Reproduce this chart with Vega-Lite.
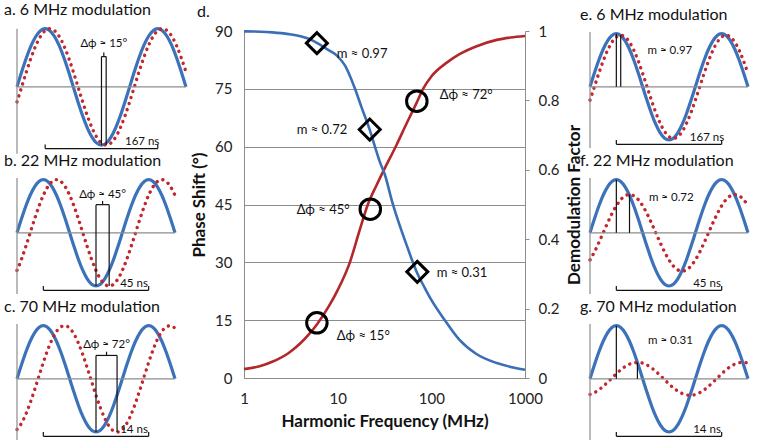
{
"$schema": "https://vega.github.io/schema/vega-lite/v6.json",
"background": "white",
"padding": {"left": 4, "top": 1, "right": 2, "bottom": 2},
"bounds": "full",
"spacing": -3,
"config": {
  "view": {"stroke": null},
  "font": "Lato",
  "title": {"font": "Lato", "fontSize": 16, "fontWeight": "normal", "color": "#111111", "anchor": "start", "frame": "group", "offset": 0},
  "axis": {"labelFont": "Lato", "titleFont": "Lato", "labelColor": "#222222", "titleColor": "#111111", "domainColor": "#8c8c8c", "gridColor": "#8c8c8c", "tickColor": "#8c8c8c"}
},
"datasets": {
  "waves": [
    {"t":0,"blue":0,"r15":-0.259,"r45":-0.707,"r72":-0.951,"e":-0.251,"f":-0.509,"g":-0.295},
    {"t":15,"blue":0.259,"r15":0,"r45":-0.5,"r72":-0.839,"e":0,"f":-0.36,"g":-0.26},
    {"t":30,"blue":0.5,"r15":0.259,"r45":-0.259,"r72":-0.669,"e":0.251,"f":-0.186,"g":-0.207},
    {"t":45,"blue":0.707,"r15":0.5,"r45":0,"r72":-0.454,"e":0.485,"f":0,"g":-0.141},
    {"t":60,"blue":0.866,"r15":0.707,"r45":0.259,"r72":-0.208,"e":0.686,"f":0.186,"g":-0.064},
    {"t":75,"blue":0.966,"r15":0.866,"r45":0.5,"r72":0.052,"e":0.84,"f":0.36,"g":0.016},
    {"t":90,"blue":1,"r15":0.966,"r45":0.707,"r72":0.309,"e":0.937,"f":0.509,"g":0.096},
    {"t":105,"blue":0.966,"r15":1,"r45":0.866,"r72":0.545,"e":0.97,"f":0.624,"g":0.169},
    {"t":120,"blue":0.866,"r15":0.966,"r45":0.966,"r72":0.743,"e":0.937,"f":0.696,"g":0.23},
    {"t":135,"blue":0.707,"r15":0.866,"r45":1,"r72":0.891,"e":0.84,"f":0.72,"g":0.276},
    {"t":150,"blue":0.5,"r15":0.707,"r45":0.966,"r72":0.978,"e":0.686,"f":0.696,"g":0.303},
    {"t":165,"blue":0.259,"r15":0.5,"r45":0.866,"r72":0.999,"e":0.485,"f":0.624,"g":0.31},
    {"t":180,"blue":0,"r15":0.259,"r45":0.707,"r72":0.951,"e":0.251,"f":0.509,"g":0.295},
    {"t":195,"blue":-0.259,"r15":0,"r45":0.5,"r72":0.839,"e":0,"f":0.36,"g":0.26},
    {"t":210,"blue":-0.5,"r15":-0.259,"r45":0.259,"r72":0.669,"e":-0.251,"f":0.186,"g":0.207},
    {"t":225,"blue":-0.707,"r15":-0.5,"r45":0,"r72":0.454,"e":-0.485,"f":0,"g":0.141},
    {"t":240,"blue":-0.866,"r15":-0.707,"r45":-0.259,"r72":0.208,"e":-0.686,"f":-0.186,"g":0.064},
    {"t":255,"blue":-0.966,"r15":-0.866,"r45":-0.5,"r72":-0.052,"e":-0.84,"f":-0.36,"g":-0.016},
    {"t":270,"blue":-1,"r15":-0.966,"r45":-0.707,"r72":-0.309,"e":-0.937,"f":-0.509,"g":-0.096},
    {"t":285,"blue":-0.966,"r15":-1,"r45":-0.866,"r72":-0.545,"e":-0.97,"f":-0.624,"g":-0.169},
    {"t":300,"blue":-0.866,"r15":-0.966,"r45":-0.966,"r72":-0.743,"e":-0.937,"f":-0.696,"g":-0.23},
    {"t":315,"blue":-0.707,"r15":-0.866,"r45":-1,"r72":-0.891,"e":-0.84,"f":-0.72,"g":-0.276},
    {"t":330,"blue":-0.5,"r15":-0.707,"r45":-0.966,"r72":-0.978,"e":-0.686,"f":-0.696,"g":-0.303},
    {"t":345,"blue":-0.259,"r15":-0.5,"r45":-0.866,"r72":-0.999,"e":-0.485,"f":-0.624,"g":-0.31},
    {"t":360,"blue":0,"r15":-0.259,"r45":-0.707,"r72":-0.951,"e":-0.251,"f":-0.509,"g":-0.295},
    {"t":375,"blue":0.259,"r15":0,"r45":-0.5,"r72":-0.839,"e":0,"f":-0.36,"g":-0.26},
    {"t":390,"blue":0.5,"r15":0.259,"r45":-0.259,"r72":-0.669,"e":0.251,"f":-0.186,"g":-0.207},
    {"t":405,"blue":0.707,"r15":0.5,"r45":0,"r72":-0.454,"e":0.485,"f":0,"g":-0.141},
    {"t":420,"blue":0.866,"r15":0.707,"r45":0.259,"r72":-0.208,"e":0.686,"f":0.186,"g":-0.064},
    {"t":435,"blue":0.966,"r15":0.866,"r45":0.5,"r72":0.052,"e":0.84,"f":0.36,"g":0.016},
    {"t":450,"blue":1,"r15":0.966,"r45":0.707,"r72":0.309,"e":0.937,"f":0.509,"g":0.096},
    {"t":465,"blue":0.966,"r15":1,"r45":0.866,"r72":0.545,"e":0.97,"f":0.624,"g":0.169},
    {"t":480,"blue":0.866,"r15":0.966,"r45":0.966,"r72":0.743,"e":0.937,"f":0.696,"g":0.23},
    {"t":495,"blue":0.707,"r15":0.866,"r45":1,"r72":0.891,"e":0.84,"f":0.72,"g":0.276},
    {"t":510,"blue":0.5,"r15":0.707,"r45":0.966,"r72":0.978,"e":0.686,"f":0.696,"g":0.303},
    {"t":525,"blue":0.259,"r15":0.5,"r45":0.866,"r72":0.999,"e":0.485,"f":0.624,"g":0.31},
    {"t":540,"blue":0,"r15":0.259,"r45":0.707,"r72":0.951,"e":0.251,"f":0.509,"g":0.295}
  ],
  "seg": [
    {"p":"a","k":"axis","x":0,"y":0,"x2":540,"y2":0},
    {"p":"a","k":"axis","x":0,"y":-1.15,"x2":0,"y2":1.0},
    {"p":"a","k":"mark","x":90,"y":-1.06,"x2":450,"y2":-1.06},
    {"p":"a","k":"mark","x":90,"y":-1.06,"x2":90,"y2":-0.99},
    {"p":"a","k":"mark","x":450,"y":-1.06,"x2":450,"y2":-0.99},
    {"p":"a","k":"mark","x":270,"y":-1,"x2":270,"y2":0.52},
    {"p":"a","k":"mark","x":285,"y":-1,"x2":285,"y2":0.52},
    {"p":"a","k":"mark","x":270,"y":0.52,"x2":285,"y2":0.52},
    {"p":"a","k":"mark","x":277.5,"y":0.52,"x2":277.5,"y2":0.59},
    {"p":"b","k":"axis","x":0,"y":0,"x2":540,"y2":0},
    {"p":"b","k":"axis","x":0,"y":-1.15,"x2":0,"y2":1.03},
    {"p":"b","k":"mark","x":90,"y":-1.08,"x2":450,"y2":-1.08},
    {"p":"b","k":"mark","x":90,"y":-1.08,"x2":90,"y2":-1.0},
    {"p":"b","k":"mark","x":450,"y":-1.08,"x2":450,"y2":-1.0},
    {"p":"b","k":"mark","x":270,"y":-1,"x2":270,"y2":0.53},
    {"p":"b","k":"mark","x":315,"y":-1,"x2":315,"y2":0.53},
    {"p":"b","k":"mark","x":270,"y":0.53,"x2":315,"y2":0.53},
    {"p":"b","k":"mark","x":292.5,"y":0.53,"x2":292.5,"y2":0.6},
    {"p":"c","k":"axis","x":0,"y":0,"x2":540,"y2":0},
    {"p":"c","k":"axis","x":0,"y":-1.15,"x2":0,"y2":1.03},
    {"p":"c","k":"mark","x":90,"y":-1.08,"x2":450,"y2":-1.08},
    {"p":"c","k":"mark","x":90,"y":-1.08,"x2":90,"y2":-1.0},
    {"p":"c","k":"mark","x":450,"y":-1.08,"x2":450,"y2":-1.0},
    {"p":"c","k":"mark","x":270,"y":-1,"x2":270,"y2":0.44},
    {"p":"c","k":"mark","x":342,"y":-1,"x2":342,"y2":0.44},
    {"p":"c","k":"mark","x":270,"y":0.44,"x2":342,"y2":0.44},
    {"p":"c","k":"mark","x":306,"y":0.44,"x2":306,"y2":0.51},
    {"p":"e","k":"axis","x":0,"y":0,"x2":540,"y2":0},
    {"p":"e","k":"axis","x":0,"y":-1.15,"x2":0,"y2":1.03},
    {"p":"e","k":"mark","x":90,"y":-1.08,"x2":450,"y2":-1.08},
    {"p":"e","k":"mark","x":90,"y":-1.08,"x2":90,"y2":-1.0},
    {"p":"e","k":"mark","x":450,"y":-1.08,"x2":450,"y2":-1.0},
    {"p":"e","k":"mark","x":90,"y":0,"x2":90,"y2":1},
    {"p":"e","k":"mark","x":105,"y":0,"x2":105,"y2":0.97},
    {"p":"f","k":"axis","x":0,"y":0,"x2":540,"y2":0},
    {"p":"f","k":"axis","x":0,"y":-1.15,"x2":0,"y2":1.03},
    {"p":"f","k":"mark","x":90,"y":-1.08,"x2":450,"y2":-1.08},
    {"p":"f","k":"mark","x":90,"y":-1.08,"x2":90,"y2":-1.0},
    {"p":"f","k":"mark","x":450,"y":-1.08,"x2":450,"y2":-1.0},
    {"p":"f","k":"mark","x":90,"y":0,"x2":90,"y2":1},
    {"p":"f","k":"mark","x":135,"y":0,"x2":135,"y2":0.72},
    {"p":"g","k":"axis","x":0,"y":0,"x2":540,"y2":0},
    {"p":"g","k":"axis","x":0,"y":-1.15,"x2":0,"y2":1.03},
    {"p":"g","k":"mark","x":90,"y":-1.08,"x2":450,"y2":-1.08},
    {"p":"g","k":"mark","x":90,"y":-1.08,"x2":90,"y2":-1.0},
    {"p":"g","k":"mark","x":450,"y":-1.08,"x2":450,"y2":-1.0},
    {"p":"g","k":"mark","x":90,"y":0,"x2":90,"y2":1},
    {"p":"g","k":"mark","x":162,"y":0,"x2":162,"y2":0.31}
  ],
  "lab": [
    {"p":"a","x":277.5,"y":0.74,"s":"Δϕ ≈ 15°"},
    {"p":"a","x":400,"y":-0.95,"s":"167 ns"},
    {"p":"b","x":292.5,"y":0.72,"s":"Δϕ ≈ 45°"},
    {"p":"b","x":400,"y":-0.96,"s":"45 ns"},
    {"p":"c","x":306,"y":0.64,"s":"Δϕ ≈ 72°"},
    {"p":"c","x":400,"y":-0.96,"s":"14 ns"},
    {"p":"e","x":273,"y":0.68,"s":"m ≈ 0.97"},
    {"p":"e","x":400,"y":-0.96,"s":"167 ns"},
    {"p":"f","x":278,"y":0.66,"s":"m ≈ 0.72"},
    {"p":"f","x":400,"y":-0.96,"s":"45 ns"},
    {"p":"g","x":275,"y":0.72,"s":"m ≈ 0.31"},
    {"p":"g","x":400,"y":-0.96,"s":"14 ns"}
  ],
  "red": [
    {"f":1,"phase":2.3},{"f":1.5,"phase":3.1},{"f":2,"phase":4.2},{"f":3,"phase":6.5},{"f":4,"phase":9},
    {"f":5,"phase":11.5},{"f":6,"phase":13.9},{"f":8,"phase":18.5},{"f":10,"phase":22.8},{"f":13.5,"phase":30},
    {"f":17,"phase":38},{"f":21,"phase":45},{"f":26,"phase":50},{"f":32,"phase":54.5},{"f":42.6,"phase":60.5},
    {"f":54.4,"phase":66},{"f":70,"phase":71.5},{"f":81.6,"phase":75},{"f":100,"phase":78.2},{"f":150,"phase":82},
    {"f":200,"phase":84},{"f":300,"phase":86},{"f":500,"phase":87.7},{"f":700,"phase":88.3},{"f":1000,"phase":88.7}
  ],
  "blue": [
    {"f":1,"m":0.999},{"f":1.5,"m":0.998},{"f":2,"m":0.996},{"f":3,"m":0.991},{"f":4,"m":0.985},
    {"f":5,"m":0.977},{"f":6,"m":0.966},{"f":8,"m":0.945},{"f":10,"m":0.927},{"f":12,"m":0.9},
    {"f":15,"m":0.84},{"f":18,"m":0.78},{"f":22,"m":0.715},{"f":25,"m":0.667},{"f":28,"m":0.625},
    {"f":32,"m":0.585},{"f":38,"m":0.51},{"f":45,"m":0.447},{"f":55,"m":0.38},{"f":63.6,"m":0.333},
    {"f":70,"m":0.305},{"f":85,"m":0.26},{"f":100,"m":0.225},{"f":140,"m":0.166},{"f":200,"m":0.11},
    {"f":300,"m":0.07},{"f":500,"m":0.043},{"f":700,"m":0.032},{"f":1000,"m":0.024}
  ],
  "circ": [{"f":6,"phase":14.3},{"f":22.3,"phase":43.8},{"f":70,"phase":71.8}],
  "diam": [{"f":6,"m":0.965},{"f":22,"m":0.716},{"f":70.8,"m":0.306}],
  "dlab": [
    {"f":9.8,"y":84,"s":"m ≈ 0.97"},
    {"f":3.65,"y":64.3,"s":"m ≈ 0.72"},
    {"f":123,"y":73.4,"s":"Δϕ ≈ 72°"},
    {"f":3.65,"y":43.6,"s":"Δϕ ≈ 45°"},
    {"f":114,"y":27.2,"s":"m ≈ 0.31"},
    {"f":9.8,"y":11,"s":"Δϕ ≈ 15°"}
  ]
},
"hconcat": [
  {"bounds": "flush", "spacing": 29, "vconcat": [
    {"width": 158, "height": 117, "title": {"text": "a. 6 MHz modulation", "dx": -13},
     "layer": [
      {"data": {"name": "waves"}, "mark": {"type": "line", "color": "#3b72b9", "strokeWidth": 3.2, "interpolate": "monotone"},
       "encoding": {"x": {"field": "t", "type": "quantitative", "scale": {"domain": [0, 505], "nice": false}, "axis": null}, "y": {"field": "blue", "type": "quantitative", "scale": {"domain": [-1.05, 0.96], "nice": false}, "axis": null}}},
      {"data": {"name": "waves"}, "mark": {"type": "line", "color": "#c1272d", "strokeWidth": 3.4, "strokeDash": [0.1, 6.2], "strokeCap": "round", "interpolate": "monotone"},
       "encoding": {"x": {"field": "t", "type": "quantitative", "axis": null}, "y": {"field": "r15", "type": "quantitative", "axis": null}}},
      {"data": {"name": "seg"}, "transform": [{"filter": "datum.p == 'a'"}], "mark": {"type": "rule", "strokeWidth": 1.2},
       "encoding": {"x": {"field": "x", "type": "quantitative", "axis": null}, "x2": {"field": "x2"}, "y": {"field": "y", "type": "quantitative", "axis": null}, "y2": {"field": "y2"},
        "color": {"field": "k", "type": "nominal", "scale": {"domain": ["axis", "mark"], "range": ["#8c8c8c", "#111111"]}, "legend": null}}},
      {"data": {"name": "lab"}, "transform": [{"filter": "datum.p == 'a'"}], "mark": {"type": "text", "fontSize": 11.5, "color": "#111111", "baseline": "middle"},
       "encoding": {"x": {"field": "x", "type": "quantitative", "axis": null}, "y": {"field": "y", "type": "quantitative", "axis": null}, "text": {"field": "s"}}}
     ]},
    {"width": 158, "height": 117, "title": {"text": "b. 22 MHz modulation", "dx": -13},
     "layer": [
      {"data": {"name": "waves"}, "mark": {"type": "line", "color": "#3b72b9", "strokeWidth": 3.2, "interpolate": "monotone"},
       "encoding": {"x": {"field": "t", "type": "quantitative", "scale": {"domain": [0, 540], "nice": false}, "axis": null}, "y": {"field": "blue", "type": "quantitative", "scale": {"domain": [-1.15, 1.05], "nice": false}, "axis": null}}},
      {"data": {"name": "waves"}, "mark": {"type": "line", "color": "#c1272d", "strokeWidth": 3.4, "strokeDash": [0.1, 6.2], "strokeCap": "round", "interpolate": "monotone"},
       "encoding": {"x": {"field": "t", "type": "quantitative", "axis": null}, "y": {"field": "r45", "type": "quantitative", "axis": null}}},
      {"data": {"name": "seg"}, "transform": [{"filter": "datum.p == 'b'"}], "mark": {"type": "rule", "strokeWidth": 1.2},
       "encoding": {"x": {"field": "x", "type": "quantitative", "axis": null}, "x2": {"field": "x2"}, "y": {"field": "y", "type": "quantitative", "axis": null}, "y2": {"field": "y2"},
        "color": {"field": "k", "type": "nominal", "scale": {"domain": ["axis", "mark"], "range": ["#8c8c8c", "#111111"]}, "legend": null}}},
      {"data": {"name": "lab"}, "transform": [{"filter": "datum.p == 'b'"}], "mark": {"type": "text", "fontSize": 11.5, "color": "#111111", "baseline": "middle"},
       "encoding": {"x": {"field": "x", "type": "quantitative", "axis": null}, "y": {"field": "y", "type": "quantitative", "axis": null}, "text": {"field": "s"}}}
     ]},
    {"width": 158, "height": 117, "title": {"text": "c. 70 MHz modulation", "dx": -13},
     "layer": [
      {"data": {"name": "waves"}, "mark": {"type": "line", "color": "#3b72b9", "strokeWidth": 3.2, "interpolate": "monotone"},
       "encoding": {"x": {"field": "t", "type": "quantitative", "scale": {"domain": [0, 540], "nice": false}, "axis": null}, "y": {"field": "blue", "type": "quantitative", "scale": {"domain": [-1.15, 1.05], "nice": false}, "axis": null}}},
      {"data": {"name": "waves"}, "mark": {"type": "line", "color": "#c1272d", "strokeWidth": 3.4, "strokeDash": [0.1, 6.2], "strokeCap": "round", "interpolate": "monotone"},
       "encoding": {"x": {"field": "t", "type": "quantitative", "axis": null}, "y": {"field": "r72", "type": "quantitative", "axis": null}}},
      {"data": {"name": "seg"}, "transform": [{"filter": "datum.p == 'c'"}], "mark": {"type": "rule", "strokeWidth": 1.2},
       "encoding": {"x": {"field": "x", "type": "quantitative", "axis": null}, "x2": {"field": "x2"}, "y": {"field": "y", "type": "quantitative", "axis": null}, "y2": {"field": "y2"},
        "color": {"field": "k", "type": "nominal", "scale": {"domain": ["axis", "mark"], "range": ["#8c8c8c", "#111111"]}, "legend": null}}},
      {"data": {"name": "lab"}, "transform": [{"filter": "datum.p == 'c'"}], "mark": {"type": "text", "fontSize": 11.5, "color": "#111111", "baseline": "middle"},
       "encoding": {"x": {"field": "x", "type": "quantitative", "axis": null}, "y": {"field": "y", "type": "quantitative", "axis": null}, "text": {"field": "s"}}}
     ]}
  ]},
  {"width": 281, "height": 347, "title": {"text": "d.", "dx": -47, "offset": 4},
   "layer": [
    {"data": {"name": "red"}, "mark": {"type": "line", "color": "#b3272b", "strokeWidth": 2.6, "interpolate": "monotone"},
     "encoding": {
      "x": {"field": "f", "type": "quantitative", "scale": {"type": "log", "domain": [1, 1000], "nice": false},
            "axis": {"values": [1, 10, 100, 1000], "format": "d", "title": "Harmonic Frequency (MHz)", "grid": false, "ticks": false, "labelFlush": false, "labelFontSize": 15, "labelPadding": 13, "titleFontSize": 17, "titleFontWeight": "bold", "titlePadding": 7}},
      "y": {"field": "phase", "type": "quantitative", "scale": {"domain": [0, 90], "nice": false},
            "axis": {"values": [0, 15, 30, 45, 60, 75, 90], "title": "Phase Shift (°)", "grid": true, "gridOpacity": {"condition": {"test": "datum.value == 90", "value": 0}, "value": 1}, "ticks": false, "labelFlush": false, "labelFontSize": 15, "labelPadding": 12, "titleFontSize": 17, "titleFontWeight": "bold", "titlePadding": 6}}}},
    {"data": {"name": "blue"}, "mark": {"type": "line", "color": "#3a6fb5", "strokeWidth": 2.6, "interpolate": "monotone"},
     "encoding": {
      "x": {"field": "f", "type": "quantitative"},
      "y": {"field": "m", "type": "quantitative", "scale": {"domain": [0, 1], "nice": false},
            "axis": {"orient": "right", "values": [0, 0.2, 0.4, 0.6, 0.8, 1], "format": "~g", "title": "Demodulation Factor", "grid": false, "ticks": true, "tickSize": 4, "labelFlush": false, "labelFontSize": 15, "labelPadding": 9, "titleFontSize": 17, "titleFontWeight": "bold", "titleAngle": 270, "titleBaseline": "top", "titlePadding": 8}}}},
    {"data": {"name": "circ"}, "mark": {"type": "point", "shape": "circle", "filled": false, "size": 420, "strokeWidth": 3, "color": "#000000", "opacity": 1},
     "encoding": {"x": {"field": "f", "type": "quantitative"}, "y": {"field": "phase", "type": "quantitative", "scale": {"domain": [0, 90], "nice": false}, "axis": null}}},
    {"data": {"name": "diam"}, "mark": {"type": "point", "shape": "diamond", "filled": false, "size": 440, "strokeWidth": 3, "color": "#000000", "opacity": 1},
     "encoding": {"x": {"field": "f", "type": "quantitative"}, "y": {"field": "m", "type": "quantitative", "scale": {"domain": [0, 1], "nice": false}, "axis": null}}},
    {"data": {"name": "dlab"}, "mark": {"type": "text", "align": "left", "baseline": "middle", "fontSize": 13, "color": "#111111"},
     "encoding": {"x": {"field": "f", "type": "quantitative"}, "y": {"field": "y", "type": "quantitative", "scale": {"domain": [0, 90], "nice": false}, "axis": null}, "text": {"field": "s"}}}
   ],
   "resolve": {"scale": {"y": "independent"}}
  },
  {"bounds": "flush", "spacing": 29, "vconcat": [
    {"width": 158, "height": 117, "title": {"text": "e. 6 MHz modulation", "dx": -10},
     "layer": [
      {"data": {"name": "waves"}, "mark": {"type": "line", "color": "#3b72b9", "strokeWidth": 3.2, "interpolate": "monotone"},
       "encoding": {"x": {"field": "t", "type": "quantitative", "scale": {"domain": [0, 540], "nice": false}, "axis": null}, "y": {"field": "blue", "type": "quantitative", "scale": {"domain": [-1.15, 1.05], "nice": false}, "axis": null}}},
      {"data": {"name": "waves"}, "mark": {"type": "line", "color": "#c1272d", "strokeWidth": 3.4, "strokeDash": [0.1, 6.2], "strokeCap": "round", "interpolate": "monotone"},
       "encoding": {"x": {"field": "t", "type": "quantitative", "axis": null}, "y": {"field": "e", "type": "quantitative", "axis": null}}},
      {"data": {"name": "seg"}, "transform": [{"filter": "datum.p == 'e'"}], "mark": {"type": "rule", "strokeWidth": 1.2},
       "encoding": {"x": {"field": "x", "type": "quantitative", "axis": null}, "x2": {"field": "x2"}, "y": {"field": "y", "type": "quantitative", "axis": null}, "y2": {"field": "y2"},
        "color": {"field": "k", "type": "nominal", "scale": {"domain": ["axis", "mark"], "range": ["#8c8c8c", "#111111"]}, "legend": null}}},
      {"data": {"name": "lab"}, "transform": [{"filter": "datum.p == 'e'"}], "mark": {"type": "text", "fontSize": 11.5, "color": "#111111", "baseline": "middle"},
       "encoding": {"x": {"field": "x", "type": "quantitative", "axis": null}, "y": {"field": "y", "type": "quantitative", "axis": null}, "text": {"field": "s"}}}
     ]},
    {"width": 158, "height": 117, "title": {"text": "f. 22 MHz modulation", "dx": -10},
     "layer": [
      {"data": {"name": "waves"}, "mark": {"type": "line", "color": "#3b72b9", "strokeWidth": 3.2, "interpolate": "monotone"},
       "encoding": {"x": {"field": "t", "type": "quantitative", "scale": {"domain": [0, 540], "nice": false}, "axis": null}, "y": {"field": "blue", "type": "quantitative", "scale": {"domain": [-1.15, 1.05], "nice": false}, "axis": null}}},
      {"data": {"name": "waves"}, "mark": {"type": "line", "color": "#c1272d", "strokeWidth": 3.4, "strokeDash": [0.1, 6.2], "strokeCap": "round", "interpolate": "monotone"},
       "encoding": {"x": {"field": "t", "type": "quantitative", "axis": null}, "y": {"field": "f", "type": "quantitative", "axis": null}}},
      {"data": {"name": "seg"}, "transform": [{"filter": "datum.p == 'f'"}], "mark": {"type": "rule", "strokeWidth": 1.2},
       "encoding": {"x": {"field": "x", "type": "quantitative", "axis": null}, "x2": {"field": "x2"}, "y": {"field": "y", "type": "quantitative", "axis": null}, "y2": {"field": "y2"},
        "color": {"field": "k", "type": "nominal", "scale": {"domain": ["axis", "mark"], "range": ["#8c8c8c", "#111111"]}, "legend": null}}},
      {"data": {"name": "lab"}, "transform": [{"filter": "datum.p == 'f'"}], "mark": {"type": "text", "fontSize": 11.5, "color": "#111111", "baseline": "middle"},
       "encoding": {"x": {"field": "x", "type": "quantitative", "axis": null}, "y": {"field": "y", "type": "quantitative", "axis": null}, "text": {"field": "s"}}}
     ]},
    {"width": 158, "height": 117, "title": {"text": "g. 70 MHz modulation", "dx": -10},
     "layer": [
      {"data": {"name": "waves"}, "mark": {"type": "line", "color": "#3b72b9", "strokeWidth": 3.2, "interpolate": "monotone"},
       "encoding": {"x": {"field": "t", "type": "quantitative", "scale": {"domain": [0, 540], "nice": false}, "axis": null}, "y": {"field": "blue", "type": "quantitative", "scale": {"domain": [-1.15, 1.05], "nice": false}, "axis": null}}},
      {"data": {"name": "waves"}, "mark": {"type": "line", "color": "#c1272d", "strokeWidth": 3.4, "strokeDash": [0.1, 6.2], "strokeCap": "round", "interpolate": "monotone"},
       "encoding": {"x": {"field": "t", "type": "quantitative", "axis": null}, "y": {"field": "g", "type": "quantitative", "axis": null}}},
      {"data": {"name": "seg"}, "transform": [{"filter": "datum.p == 'g'"}], "mark": {"type": "rule", "strokeWidth": 1.2},
       "encoding": {"x": {"field": "x", "type": "quantitative", "axis": null}, "x2": {"field": "x2"}, "y": {"field": "y", "type": "quantitative", "axis": null}, "y2": {"field": "y2"},
        "color": {"field": "k", "type": "nominal", "scale": {"domain": ["axis", "mark"], "range": ["#8c8c8c", "#111111"]}, "legend": null}}},
      {"data": {"name": "lab"}, "transform": [{"filter": "datum.p == 'g'"}], "mark": {"type": "text", "fontSize": 11.5, "color": "#111111", "baseline": "middle"},
       "encoding": {"x": {"field": "x", "type": "quantitative", "axis": null}, "y": {"field": "y", "type": "quantitative", "axis": null}, "text": {"field": "s"}}}
     ]}
  ]}
]
}
